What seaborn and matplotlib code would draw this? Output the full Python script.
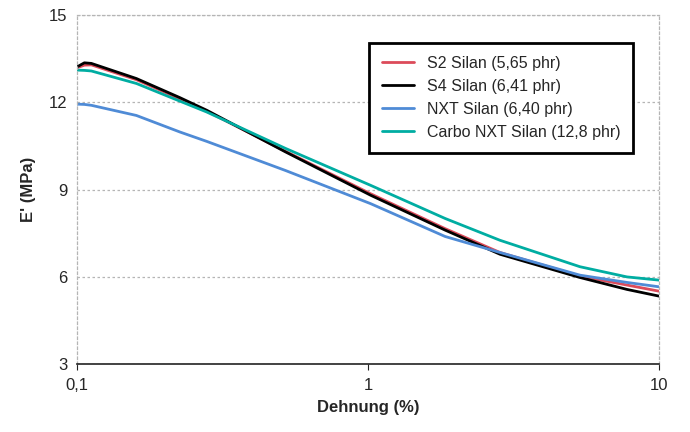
import pandas as pd
import matplotlib.pyplot as plt
import matplotlib.ticker as mticker
import seaborn as sns

# strain amplitude (%) and storage modulus E' (MPa)
dehnung = [0.1, 0.106, 0.112, 0.16, 0.226, 0.279, 0.52, 1.02, 1.84, 2.84, 5.35, 7.76, 10]

s2_silan = [13.19, 13.28, 13.29, 12.78, 12.12, 11.70, 10.32, 8.86, 7.66, 6.84, 6.03, 5.72, 5.51]
s4_silan = [13.22, 13.36, 13.34, 12.82, 12.16, 11.73, 10.30, 8.81, 7.61, 6.78, 5.98, 5.57, 5.34]
nxt_silan = [11.94, 11.93, 11.90, 11.55, 10.98, 10.66, 9.66, 8.52, 7.39, 6.84, 6.06, 5.81, 5.66]
carbo_nxt = [13.11, 13.10, 13.08, 12.65, 12.04, 11.67, 10.42, 9.15, 8.01, 7.26, 6.35, 6.00, 5.89]

labels = ['S2 Silan (5,65 phr)', 'S4 Silan (6,41 phr)', 'NXT Silan (6,40 phr)', 'Carbo NXT Silan (12,8 phr)']
colors = ['#DC4B5A', '#000000', '#4F8BD6', '#00ADA2']

y_ticks = [3, 6, 9, 12, 15]
x_ticks = [0.1, 1, 10]
x_ticklabels = ['0,1', '1', '10']

rows = []
for lab, vals in zip(labels, [s2_silan, s4_silan, nxt_silan, carbo_nxt]):
    for x, y in zip(dehnung, vals):
        rows.append({'Dehnung': x, 'E': y, 'Probe': lab})
df = pd.DataFrame(rows)

sns.set_style('white')
plt.rcParams['font.family'] = ['Liberation Sans', 'DejaVu Sans']

fig = plt.figure(figsize=(6.9, 4.32), dpi=100)
ax = fig.add_axes([0.1116, 0.157, 0.8435, 0.808])

sns.lineplot(data=df, x='Dehnung', y='E', hue='Probe', hue_order=labels,
             palette=colors, linewidth=2.0, ax=ax, sort=False)

ax.set_xscale('log')
ax.set_xlim(0.1, 10)
ax.set_ylim(3, 15)
ax.set_xticks(x_ticks)
ax.set_xticklabels(x_ticklabels)
ax.xaxis.set_minor_locator(mticker.NullLocator())
ax.set_yticks(y_ticks)

ax.grid(axis='y', color='#b5b5b5', linestyle=(0, (2, 2)), linewidth=0.9)
for side in ['top', 'left', 'right']:
    ax.spines[side].set_color('#b5b5b5')
    ax.spines[side].set_linestyle((0, (2, 2)))
    ax.spines[side].set_linewidth(0.9)
ax.spines['bottom'].set_color('#222222')
ax.spines['bottom'].set_linewidth(1.2)

ax.tick_params(axis='y', length=4, color='#b5b5b5', labelsize=12, pad=3)
ax.tick_params(axis='x', length=4, color='#222222', labelsize=12, pad=6, bottom=True)

ax.set_xlabel('Dehnung (%)', fontsize=12, fontweight='bold', labelpad=5)
ax.set_ylabel("E' (MPa)", fontsize=12, fontweight='bold', labelpad=9)

leg = ax.legend(loc='upper left', bbox_to_anchor=(0.502, 0.92), fontsize=11.5,
                frameon=True, fancybox=False, handlelength=2.0, handletextpad=0.8,
                borderpad=0.8, labelspacing=0.5, borderaxespad=0)
leg.get_frame().set_edgecolor('black')
leg.get_frame().set_linewidth(2.0)
leg.get_frame().set_alpha(1)

fig.savefig('out.png', dpi=100)
